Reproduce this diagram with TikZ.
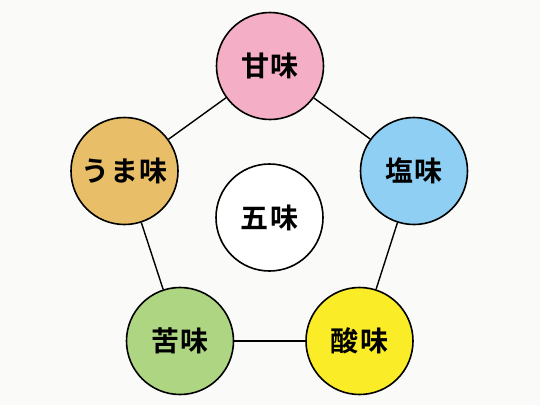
\documentclass[tikz,border=0pt]{standalone}
\usepackage{fontspec}
\newfontfamily\jp{Noto Sans CJK JP Bold}[LetterSpace=5]
\definecolor{bg}{HTML}{FAFAF8}
\definecolor{cpink}{HTML}{F4AFC7}
\definecolor{cblue}{HTML}{8FCFF3}
\definecolor{cyellow}{HTML}{FAEC27}
\definecolor{cgreen}{HTML}{AED682}
\definecolor{corange}{HTML}{E8BE68}
\begin{document}
\begin{tikzpicture}[x=1pt,y=-1pt,
  taste/.style={circle,draw=black,line width=1.6pt,minimum size=107pt,inner sep=0pt,font=\jp\fontsize{28}{28}\selectfont},
  link/.style={draw=black,line width=1.4pt}]
\fill[bg] (0,0) rectangle (540,405);
\useasboundingbox (0,0) rectangle (540,405);
\node[taste,fill=cpink] (sweet) at (270,66) {甘味};
\node[taste,fill=cblue] (salt) at (414,171) {塩味};
\node[taste,fill=cyellow] (sour) at (359.5,341) {酸味};
\node[taste,fill=cgreen] (bitter) at (180,341) {苦味};
\node[taste,fill=corange] (umami) at (124.5,171) {うま味};
\node[taste,fill=white] (five) at (269.5,217.5) {五味};
\draw[link] (sweet) -- (salt);
\draw[link] (salt) -- (sour);
\draw[link] (sour) -- (bitter);
\draw[link] (bitter) -- (umami);
\draw[link] (umami) -- (sweet);
\end{tikzpicture}
\end{document}
